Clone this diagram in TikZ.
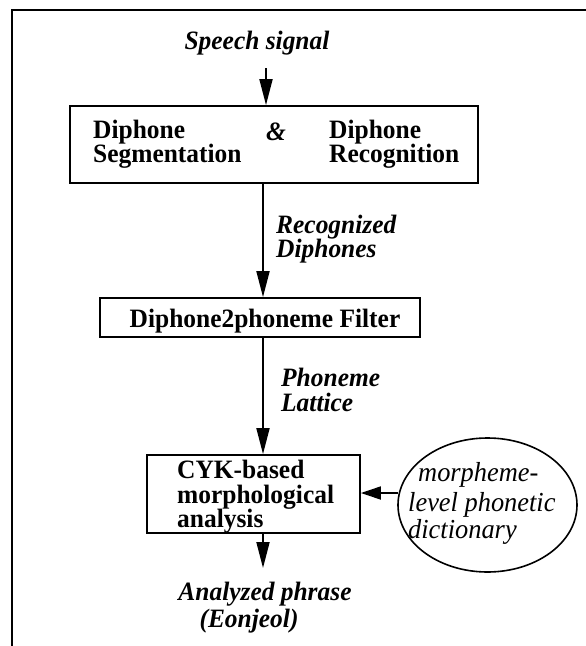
\documentclass[tikz,border=0pt]{standalone}
\usepackage{fontspec}
\setmainfont{Liberation Serif}[FakeStretch=0.96]
\usetikzlibrary{arrows.meta,shapes.geometric}

\begin{document}
\begin{tikzpicture}[x=1pt,y=-1pt,
  frame/.style={line width=2pt},
  stagebox/.style={draw,line width=1.8pt,rectangle,inner sep=0pt},
  dictshape/.style={draw,line width=1.6pt,ellipse,inner sep=0pt},
  flow/.style={line width=1.8pt,-{Triangle[length=26pt,width=13pt]}},
  sideflow/.style={line width=1.8pt,-{Triangle[length=20pt,width=13pt]}},
  lbl/.style={font=\fontsize{26.5}{24}\selectfont\bfseries\itshape,inner sep=0pt},
  btxt/.style={font=\fontsize{26.5}{24}\selectfont\bfseries,inner sep=0pt},
  dtxt/.style={font=\fontsize{27.5}{27}\selectfont\itshape,inner sep=0pt}]
\useasboundingbox (0,0) rectangle (586,646);

% outer frame (open towards the right and bottom edges)
\draw[frame] (12,660) -- (12,10) -- (600,10);

% processing stages
\node[stagebox,minimum width=408pt,minimum height=77pt] (seg) at (274,144.5) {};
\node[stagebox,minimum width=320pt,minimum height=39pt] (filt) at (260,317.5) {};
\node[stagebox,minimum width=213pt,minimum height=78pt] (cyk) at (253.5,494) {};
\node[dictshape,minimum width=179pt,minimum height=134pt] (dict) at (487.5,505) {};

% stage texts
\node[btxt,anchor=base west] (segA1) at (93,138) {Diphone};
\node[btxt,anchor=base west] (segA2) at (93,162) {Segmentation};
\node[lbl,anchor=base] (amp) at (276,140) {\&};
\node[btxt,anchor=base west] (segB1) at (329,138) {Diphone};
\node[btxt,anchor=base west] (segB2) at (329,162) {Recognition};
\node[btxt,anchor=base] (filtT) at (265,327) {Diphone2phoneme Filter};
\node[btxt,anchor=base west] (cykT1) at (177,478) {CYK-based};
\node[btxt,anchor=base west] (cykT2) at (177,503) {morphological};
\node[btxt,anchor=base west] (cykT3) at (177,527) {analysis};
\node[dtxt,anchor=base west] (dictT1) at (418,481) {morpheme-};
\node[dtxt,anchor=base west] (dictT2) at (408,511) {level phonetic};
\node[dtxt,anchor=base west] (dictT3) at (408,538) {dictionary};

% flow labels
\node[lbl,anchor=base] (speech) at (257,49) {Speech signal};
\node[lbl,anchor=base west] (rec1) at (276,233) {Recognized};
\node[lbl,anchor=base west] (rec2) at (276,257) {Diphones};
\node[lbl,anchor=base west] (lat1) at (281,386) {Phoneme};
\node[lbl,anchor=base west] (lat2) at (281,411) {Lattice};
\node[lbl,anchor=base] (out1) at (265,600) {Analyzed phrase};
\node[lbl,anchor=base] (out2) at (249,627) {(Eonjeol)};

% connectors
\coordinate (sIn) at (266,68);
\coordinate (col) at (263,0);
\coordinate (outTip) at (263,568);
\draw[flow] (sIn) -- (sIn |- seg.north);
\draw[flow] (seg.south -| col) -- (filt.north -| col);
\draw[flow] (filt.south -| col) -- (cyk.north -| col);
\draw[flow] (cyk.south -| col) -- (outTip);
\draw[sideflow] ([yshift=12pt,xshift=1pt]dict.west) -- ([yshift=12pt]dict.west -| cyk.east);
\end{tikzpicture}
\end{document}
